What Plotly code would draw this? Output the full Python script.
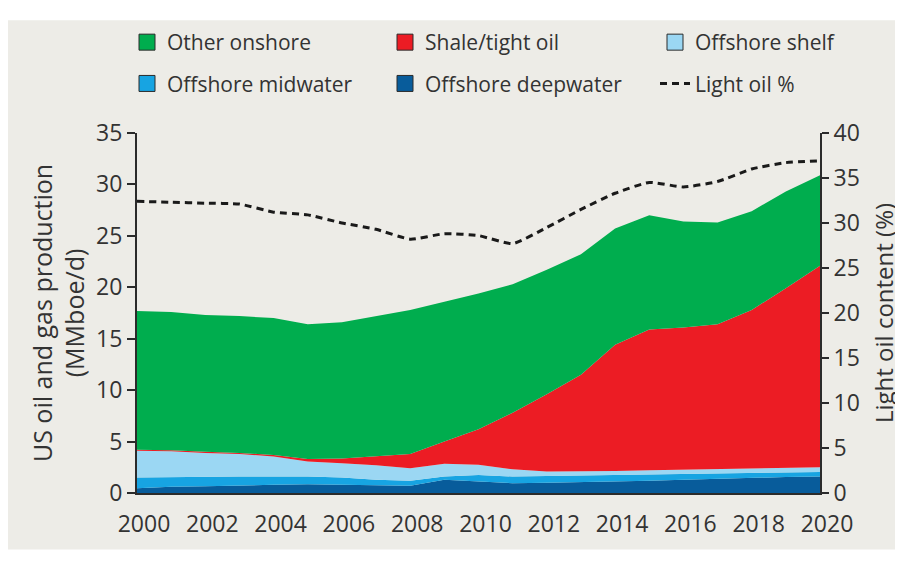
import plotly.graph_objects as go

# ---------------- data ----------------
years = list(range(2000, 2021))

offshore_deepwater = [0.45, 0.6, 0.65, 0.75, 0.8, 0.85, 0.8, 0.7, 0.7, 1.3, 1.15,
                      0.95, 1.0, 1.05, 1.1, 1.2, 1.3, 1.4, 1.5, 1.55, 1.6]
offshore_midwater = [1.05, 0.95, 0.95, 0.85, 0.8, 0.75, 0.7, 0.6, 0.5, 0.3, 0.6,
                     0.65, 0.65, 0.65, 0.65, 0.6, 0.55, 0.5, 0.45, 0.45, 0.45]
offshore_shelf = [2.6, 2.5, 2.3, 2.2, 1.95, 1.45, 1.4, 1.4, 1.2, 1.25, 1.0,
                  0.7, 0.45, 0.4, 0.4, 0.4, 0.4, 0.4, 0.45, 0.45, 0.45]
shale_tight_oil = [0.1, 0.1, 0.1, 0.1, 0.15, 0.25, 0.45, 0.9, 1.4, 2.15, 3.45,
                   5.5, 7.5, 9.4, 12.25, 13.7, 13.85, 14.1, 15.4, 17.45, 19.6]
other_onshore = [13.5, 13.45, 13.3, 13.3, 13.3, 13.1, 13.25, 13.6, 14.0, 13.6, 13.2,
                 12.5, 12.1, 11.7, 11.3, 11.1, 10.3, 9.9, 9.6, 9.4, 8.8]
light_oil_pct = [32.4, 32.3, 32.2, 32.1, 31.2, 30.9, 30.0, 29.3, 28.2, 28.8, 28.6,
                 27.7, 29.5, 31.5, 33.3, 34.5, 34.0, 34.6, 36.0, 36.7, 36.9]

x_label_years = list(range(2000, 2021, 2))
x_label_text = [str(y) for y in x_label_years]
x_tick_marks = [2001.5, 2003.5, 2005.5, 2007.5, 2009.5, 2011.5, 2013.5, 2015.5, 2017.5, 2019.5]

# ---------------- styling ----------------
C_OTHER = "#00ad4e"
C_SHALE = "#ec1c24"
C_SHELF = "#9bd7f3"
C_MID = "#17a4e2"
C_DEEP = "#085c9b"
BG = "#edece7"
TXT = "#333333"
FONT = "Open Sans"

fig = go.Figure()

# stacked areas (bottom to top)
series = [
    ("Offshore deepwater", offshore_deepwater, C_DEEP),
    ("Offshore midwater", offshore_midwater, C_MID),
    ("Offshore shelf", offshore_shelf, C_SHELF),
    ("Shale/tight oil", shale_tight_oil, C_SHALE),
    ("Other onshore", other_onshore, C_OTHER),
]
for name, vals, col in series:
    fig.add_trace(go.Scatter(
        x=years, y=vals, name=name, mode="lines", stackgroup="one",
        line=dict(width=0, color=col), fillcolor=col, showlegend=False,
        hoverinfo="x+y+name",
    ))

# legend entries (square swatches), one legend per column
legend_items = [
    ("Other onshore", C_OTHER, "legend"),
    ("Offshore midwater", C_MID, "legend"),
    ("Shale/tight oil", C_SHALE, "legend2"),
    ("Offshore deepwater", C_DEEP, "legend2"),
    ("Offshore shelf", C_SHELF, "legend3"),
]
for name, col, lg in legend_items:
    fig.add_trace(go.Scatter(
        x=[None], y=[None], mode="markers", name=name, legend=lg, legendgroup=name,
        marker=dict(symbol="square", size=22, color=col,
                    line=dict(color="#2b2b2b", width=1)),
        hoverinfo="skip",
    ))

# light oil % line on right axis
fig.add_trace(go.Scatter(
    x=years, y=light_oil_pct, name="Light oil %", mode="lines", yaxis="y2",
    legend="legend3", legendgroup="Light oil %",
    line=dict(color="#1a1a1a", width=3, dash="7px,5px", shape="spline", smoothing=0.5),
))

W, H = 903, 563
OFF = 8  # page body margin in the browser
# plot area in screenshot pixels: x 137..820, y 129..493
L = 137 - OFF
T = 129 - OFF
pw, ph = 820 - 137, 493 - 129
R = W - L - pw
B = H - T - ph


def px_x(sx):
    return (sx - OFF - L) / pw


def px_y(sy):
    return (T + ph - (sy - OFF)) / ph


fig.add_shape(type="rect", xref="paper", yref="paper",
              x0=px_x(0), x1=px_x(897), y0=px_y(550), y1=px_y(15),
              fillcolor=BG, line=dict(width=0), layer="below")

axis_common = dict(showgrid=False, zeroline=False, showline=True,
                   linecolor="#2b2b2b", linewidth=2,
                   tickcolor="#2b2b2b", tickwidth=2,
                   tickfont=dict(family=FONT, size=23, color=TXT))


def legend_at(sx_left, sy_top):
    return dict(orientation="v", xref="paper", yref="container",
                x=px_x(sx_left), xanchor="left",
                y=1 - (sy_top - OFF) / H, yanchor="top",
                traceorder="grouped", tracegroupgap=11,
                bgcolor="rgba(0,0,0,0)", borderwidth=0,
                font=dict(family=FONT, size=21, color=TXT), itemsizing="trace")


fig.update_layout(
    width=W, height=H,
    margin=dict(l=L, r=R, t=T, b=B, pad=0),
    paper_bgcolor="white", plot_bgcolor=BG,
    font=dict(family=FONT, color=TXT),
    xaxis=dict(range=[2000, 2020], tickmode="array", tickvals=x_label_years,
               ticktext=x_label_text, ticks="", ticklabelshift=7,
               ticklabelstandoff=9, **axis_common),
    xaxis2=dict(range=[2000, 2020], overlaying="x", anchor="y", side="bottom",
                tickmode="array", tickvals=x_tick_marks, ticks="outside",
                ticklen=8, showticklabels=False, showgrid=False, zeroline=False,
                showline=False, tickcolor="#2b2b2b", tickwidth=2),
    yaxis=dict(range=[0, 35], dtick=5, ticks="outside", ticklen=8,
               title=dict(text="US oil and gas production<br>(MMboe/d)",
                          font=dict(family=FONT, size=25, color=TXT), standoff=4),
               **axis_common),
    yaxis2=dict(range=[0, 40], dtick=5, ticks="outside", ticklen=7,
                overlaying="y", side="right", anchor="x",
                title=dict(text="Light oil content (%)",
                           font=dict(family=FONT, size=24, color=TXT), standoff=17),
                **axis_common),
    legend=legend_at(127, 22),
    legend2=legend_at(385, 22),
    legend3=legend_at(655, 22),
)

fig.write_html("out.html")
